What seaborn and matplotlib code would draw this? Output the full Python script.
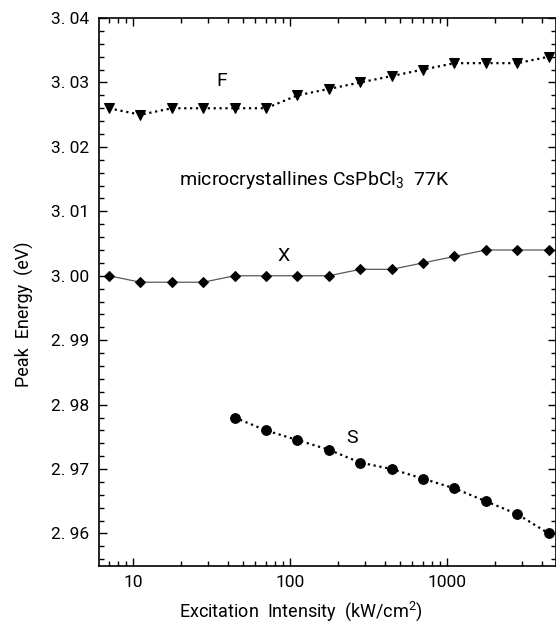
import matplotlib as mpl
mpl.use("Agg")
import matplotlib.pyplot as plt
import seaborn as sns
import pandas as pd
import numpy as np
from matplotlib.ticker import FuncFormatter, MultipleLocator, LogLocator, NullFormatter

# intensities (kW/cm^2), 0.2-decade steps
intensidad = [7, 11.1, 17.6, 27.9, 44.2, 70, 111, 176, 279, 442, 700, 1110, 1760, 2790, 4420]
pico_F = [3.026, 3.025, 3.026, 3.026, 3.026, 3.026, 3.028, 3.029, 3.030, 3.031,
          3.032, 3.033, 3.033, 3.033, 3.034]
pico_X = [3.000, 2.999, 2.999, 2.999, 3.000, 3.000, 3.000, 3.000, 3.001, 3.001,
          3.002, 3.003, 3.004, 3.004, 3.004]
intensidad_S = intensidad[4:]
pico_S = [2.978, 2.976, 2.9745, 2.973, 2.971, 2.970, 2.9685, 2.967, 2.965, 2.963, 2.960]

df_F = pd.DataFrame({"x": intensidad, "y": pico_F})
df_X = pd.DataFrame({"x": intensidad, "y": pico_X})
df_S = pd.DataFrame({"x": intensidad_S, "y": pico_S})

sns.set_style("ticks")
plt.rcParams['font.family'] = ['Roboto', 'DejaVu Sans']
plt.rcParams['mathtext.fontset'] = 'custom'
plt.rcParams['mathtext.rm'] = 'Roboto'
plt.rcParams['mathtext.default'] = 'regular'
plt.rcParams['text.color'] = 'black'
plt.rcParams['axes.labelcolor'] = 'black'
plt.rcParams['xtick.color'] = 'black'
plt.rcParams['ytick.color'] = 'black'
plt.rcParams['axes.edgecolor'] = 'black'

fig = plt.figure(figsize=(5.56, 6.23), dpi=100)
ax = fig.add_axes([0.178, 0.092, 0.822, 0.879])

## --------------- series ---------- ##
sns.lineplot(x="x", y="y", data=df_F, ax=ax, color="black", marker="v", markersize=7.5,
             linestyle=":", linewidth=1.6, markeredgecolor="black", sort=False, estimator=None)
sns.lineplot(x="x", y="y", data=df_X, ax=ax, color="0.35", marker="D", markersize=5.5,
             linestyle="-", linewidth=0.9, markeredgecolor="black", markerfacecolor="black",
             sort=False, estimator=None)
sns.lineplot(x="x", y="y", data=df_S, ax=ax, color="black", marker="o", markersize=7,
             linestyle=":", linewidth=1.6, markeredgecolor="black", sort=False, estimator=None)

ax.set_xscale("log")
ax.set_xlim(6.05, 4920)
ax.set_ylim(2.955, 3.04)

## --------------- labels ---------- ##
fs = 12.5
ax.text(36.5, 3.0302, "F", fontsize=fs + 1.5, ha="center", va="center")
ax.text(90, 3.0030, "X", fontsize=fs + 1.5, ha="center", va="center")
ax.text(246, 2.9748, "S", fontsize=fs + 1.5, ha="center", va="center")
ax.text(143, 3.0148, "microcrystallines CsPbCl$_3$  77K", fontsize=fs + 1.5, ha="center", va="center")

ax.set_xlabel("Excitation  Intensity  (kW/cm$^2$)", fontsize=fs + 0.5, labelpad=4)
ax.xaxis.set_label_coords(0.442, -0.062)
ax.set_ylabel("Peak  Energy  (eV)", fontsize=fs + 0.5, labelpad=12)
ax.yaxis.set_label_coords(-0.142, 0.46)

## --------------- ticks ---------- ##
ax.yaxis.set_major_locator(MultipleLocator(0.01))
ax.yaxis.set_minor_locator(MultipleLocator(0.002))
ax.yaxis.set_major_formatter(FuncFormatter(lambda v, p: f"{v:.2f}".replace(".", ". ")))
ax.xaxis.set_major_locator(LogLocator(base=10))
ax.xaxis.set_minor_locator(LogLocator(base=10, subs=np.arange(2, 10)))
ax.xaxis.set_major_formatter(FuncFormatter(lambda v, p: f"{int(round(v))}"))
ax.xaxis.set_minor_formatter(NullFormatter())

ax.tick_params(which="both", direction="in", top=True, right=True, labelsize=fs, width=1)
ax.tick_params(which="major", length=6, pad=7)
ax.tick_params(which="minor", length=3.5)
for s in ax.spines.values():
  s.set_linewidth(1.2)

plt.savefig("out.png", dpi=100)
